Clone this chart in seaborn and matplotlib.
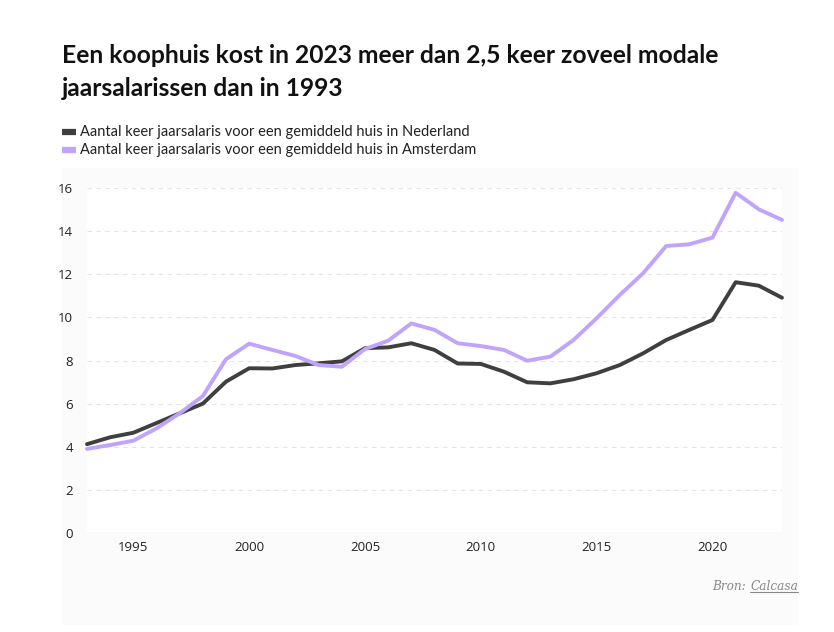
"""Koophuis vs modaal jaarsalaris, Nederland en Amsterdam (1993-2023)."""
import matplotlib

matplotlib.use("Agg")
import matplotlib.pyplot as plt  # noqa: E402
import pandas as pd  # noqa: E402
import seaborn as sns  # noqa: E402
from matplotlib.lines import Line2D  # noqa: E402
from matplotlib.patches import Rectangle  # noqa: E402

years = list(range(1993, 2024))
nederland = [4.12, 4.44, 4.65, 5.10, 5.55, 6.00, 7.02, 7.64, 7.63, 7.79, 7.87,
             7.96, 8.57, 8.61, 8.80, 8.49, 7.86, 7.84, 7.48, 6.99, 6.94, 7.13,
             7.41, 7.79, 8.33, 8.95, 9.42, 9.88, 11.63, 11.47, 10.91]
amsterdam = [3.90, 4.08, 4.28, 4.85, 5.55, 6.35, 8.06, 8.78, 8.49, 8.21, 7.79,
             7.71, 8.53, 8.92, 9.72, 9.42, 8.80, 8.67, 8.49, 7.99, 8.18, 8.95,
             9.96, 11.04, 12.04, 13.31, 13.39, 13.70, 15.78, 15.01, 14.52]
series_names = ["Aantal keer jaarsalaris voor een gemiddeld huis in Nederland",
                "Aantal keer jaarsalaris voor een gemiddeld huis in Amsterdam"]
title = ("Een koophuis kost in 2023 meer dan 2,5 keer zoveel modale\n"
         "jaarsalarissen dan in 1993")
yticks = [0, 2, 4, 6, 8, 10, 12, 14, 16]
xticks = [1995, 2000, 2005, 2010, 2015, 2020]

COLORS = {series_names[0]: "#3f3f3f", series_names[1]: "#c0a4fb"}

df = pd.concat([
    pd.DataFrame({"jaar": years, "waarde": nederland, "reeks": series_names[0]}),
    pd.DataFrame({"jaar": years, "waarde": amsterdam, "reeks": series_names[1]}),
])

sns.set_theme(style="white")
plt.rcParams["font.family"] = ["Lato", "DejaVu Sans"]

W, H = 834, 632
fig = plt.figure(figsize=(W / 100, H / 100), dpi=100)
fig.patch.set_facecolor("white")
# faint grey panel behind the chart
fig.patches.append(Rectangle((62 / W, 1 - 625 / H), (798 - 62) / W, (625 - 168) / H,
                             transform=fig.transFigure, facecolor="#fbfbfb",
                             edgecolor="none", zorder=-5))

ax = fig.add_axes([87 / W, 1 - 533 / H, (782 - 87) / W, (533 - 188) / H])
ax.set_zorder(1)
ax.set_facecolor("white")
sns.lineplot(data=df, x="jaar", y="waarde", hue="reeks", palette=COLORS,
             linewidth=2.8, ax=ax, legend=False, clip_on=False)

ax.set_xlim(1993, 2023)
ax.set_ylim(0, 16)
ax.set_xticks(xticks)
ax.set_yticks(yticks)
ax.set_xlabel("")
ax.set_ylabel("")
ax.tick_params(axis="both", length=0, labelsize=9.5, colors="#222222",
               labelfontfamily="Open Sans")
ax.tick_params(axis="y", pad=10)
ax.tick_params(axis="x", pad=6)
for y in yticks[1:]:
    ax.axhline(y, color="#e4e4e4", lw=0.8, ls=(0, (4, 4)), zorder=0)
ax.axhline(0, color="#e4e4e4", lw=1.0, zorder=0)
for s in ax.spines.values():
    s.set_visible(False)

fig.text(62 / W, 1 - 44 / H, title, ha="left", va="top", fontsize=17.7,
         fontweight="bold", color="#111111", linespacing=1.5)

for i, name in enumerate(series_names):
    yy = 1 - (132 + 18 * i) / H
    fig.lines.append(Line2D([62 / W, 76 / W], [yy, yy], transform=fig.transFigure,
                            color=COLORS[name], lw=4.5, solid_capstyle="butt"))
    fig.text(80 / W, yy, name, ha="left", va="center", fontsize=10.5, color="#222222")

src = fig.text(798 / W, 1 - 587 / H, "Calcasa", ha="right", va="center",
               fontsize=8.7, style="italic", color="#888888",
               family=["DejaVu Serif"])
fig.canvas.draw()
bb = src.get_window_extent().transformed(fig.transFigure.inverted())
fig.lines.append(Line2D([bb.x0, bb.x1], [bb.y0 + 0.002, bb.y0 + 0.002],
                        transform=fig.transFigure, color="#888888", lw=0.8))
fig.text(bb.x0, 1 - 587 / H, "Bron: ", ha="right", va="center", fontsize=8.7,
         style="italic", color="#888888", family=["DejaVu Serif"])

fig.savefig("out.png", dpi=100)
